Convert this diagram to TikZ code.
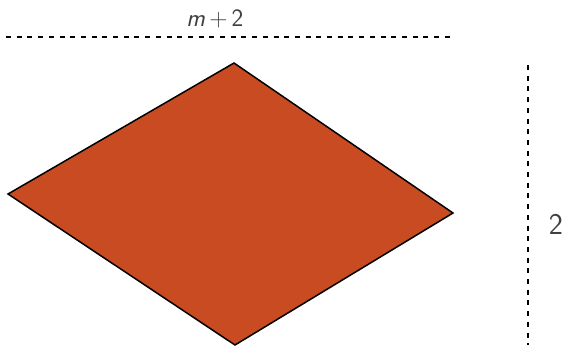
\documentclass[tikz,border=0pt]{standalone}
\usepackage{fontspec}
\usepackage{tikz}

\begin{document}
\begin{tikzpicture}[
    x=1pt, y=-1pt,
    rhomb/.style={draw, line width=1.5pt, fill=rhombfill, line join=miter},
    guide/.style={line width=1.3pt, dash pattern=on 5pt off 5.7pt},
    lbl/.style={font=\sffamily, text=black!75}
]
\definecolor{rhombfill}{HTML}{C94B21}
\useasboundingbox (0,0) rectangle (565,346);
\coordinate (left) at (8,194);
\coordinate (top) at (234,63);
\coordinate (right) at (453,213);
\coordinate (bottom) at (235,345);
\draw[rhomb] (left) -- (top) -- (right) -- (bottom) -- cycle;
\coordinate (wa) at (6,37);
\coordinate (wb) at (453,37);
\coordinate (ha) at (528,65);
\coordinate (hb) at (528,345);
\draw[guide] (wa) -- (wb);
\draw[guide] (ha) -- (hb);
\node[lbl, font=\sffamily\fontsize{25}{30}\selectfont] (width) at (215,19) {\textsl{m}\,+\,2};
\node[lbl, font=\sffamily\fontsize{30}{36}\selectfont] (height) at (556,224) {2};
\end{tikzpicture}
\end{document}
